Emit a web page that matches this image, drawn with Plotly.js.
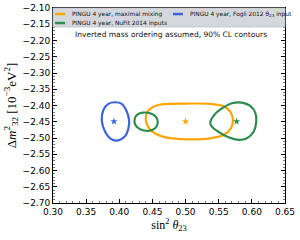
<!DOCTYPE html>
<html><head><meta charset="utf-8">
<script src="https://cdn.plot.ly/plotly-3.0.1.min.js"></script>
<style>html,body{margin:0;padding:0;background:#fff}#c{width:300px;height:240px}</style>
</head><body><div id="c"></div>
<script>
// Contour data (sin^2 theta23, Delta m^2_32 in 1e-3 eV^2)
const orangeX = [0.440,0.4425,0.4516,0.4667,0.502,0.5372,0.5573,0.5674,0.5715,0.5684,0.5573,0.5372,0.502,0.4718,0.4541,0.444,0.440];
const orangeY = [-2.445,-2.419,-2.404,-2.396,-2.394,-2.395,-2.402,-2.419,-2.445,-2.470,-2.491,-2.501,-2.504,-2.499,-2.486,-2.467,-2.445];
const blueX = [0.3937,0.4038,0.4103,0.4148,0.4138,0.4088,0.3962,0.3861,0.3786,0.3735,0.3760,0.3835,0.3937];
const blueY = [-2.390,-2.395,-2.414,-2.445,-2.470,-2.494,-2.508,-2.501,-2.481,-2.445,-2.414,-2.395,-2.390];
const greenSmallX = [0.4228,0.4264,0.4355,0.4465,0.4556,0.4581,0.4541,0.444,0.4314,0.4249,0.4228];
const greenSmallY = [-2.447,-2.429,-2.422,-2.424,-2.436,-2.453,-2.470,-2.478,-2.473,-2.462,-2.447];
const greenBigX = [0.5372,0.5433,0.5548,0.5699,0.585,0.5976,0.6051,0.6066,0.6026,0.5926,0.580,0.5648,0.5497,0.5397,0.5372];
const greenBigY = [-2.453,-2.429,-2.409,-2.393,-2.391,-2.401,-2.422,-2.450,-2.481,-2.501,-2.506,-2.498,-2.481,-2.465,-2.453];
const bestFitX = [0.500, 0.392, 0.577];
const bestFitY = [-2.449, -2.449, -2.449];
const seriesNames = ["PINGU 4 year, maximal mixing", "PINGU 4 year, Fogli 2012 θ<sub>23</sub> input", "PINGU 4 year, NuFit 2014 inputs"];
const xTicks = [0.30,0.35,0.40,0.45,0.50,0.55,0.60,0.65];
const yTicks = [-2.70,-2.65,-2.60,-2.55,-2.50,-2.45,-2.40,-2.35,-2.30,-2.25,-2.20,-2.15,-2.10];

const cOrange = "#ffa500", cBlue = "#3f63e0", cGreen = "#2e8b4e";
const line = (x, y, c, name) => ({x, y, type: "scatter", mode: "lines", name, showlegend: false,
  line: {color: c, width: 2.2, shape: "spline", smoothing: 1.0}, hoverinfo: "skip"});
const traces = [
  line(orangeX, orangeY, cOrange, seriesNames[0]),
  line(blueX, blueY, cBlue, seriesNames[1]),
  line(greenSmallX, greenSmallY, cGreen, seriesNames[2]),
  line(greenBigX, greenBigY, cGreen, seriesNames[2]),
  {x: bestFitX, y: bestFitY, type: "scatter", mode: "markers", showlegend: false,
   marker: {symbol: "star", size: 5.5, color: [cOrange, cBlue, cGreen]}}
];

const axBase = {showline: true, linecolor: "#000", linewidth: 1, mirror: "allticks", ticks: "inside",
  ticklen: 4, tickwidth: 1, tickcolor: "#000", showgrid: false, zeroline: false,
  tickfont: {family: "DejaVu Sans", size: 9, color: "#000"},
  minor: {ticks: "inside", ticklen: 2, tickwidth: 0.8, tickcolor: "#555", dtick: 0.01}};

const legFont = {family: "DejaVu Sans", size: 5.9, color: "#111"};
const layout = {
  width: 300, height: 240, margin: {l: 53, r: 15, t: 8, b: 37},
  paper_bgcolor: "#fff", plot_bgcolor: "#fff", showlegend: false,
  xaxis: Object.assign({}, axBase, {range: [0.30, 0.65], tickvals: xTicks, ticktext: xTicks.map(v => v.toFixed(2)),
    title: {text: "sin<sup>2</sup> <i>θ</i><sub>23</sub>", font: {family: "Liberation Serif", size: 12, color: "#000"}, standoff: 2}}),
  yaxis: Object.assign({}, axBase, {range: [-2.70, -2.10], tickvals: yTicks, ticktext: yTicks.map(v => "−" + Math.abs(v).toFixed(2)),
    title: {text: "Δ<i>m</i><sup>2</sup><sub>32</sub> [10<sup>−3</sup>eV<sup>2</sup>]", font: {family: "Liberation Serif", size: 13, color: "#000"}, standoff: 3}}),
  shapes: [
    {type: "rect", xref: "paper", yref: "paper", x0: 0, x1: 1, y0: 0.9026, y1: 1, fillcolor: "#d4d7dc", line: {color: "#c0c3c8", width: 0.8}, layer: "above"},
    {type: "line", xref: "paper", yref: "paper", x0: 0.009, x1: 0.052, y0: 0.969, y1: 0.969, line: {color: cOrange, width: 2.5}},
    {type: "line", xref: "paper", yref: "paper", x0: 0.009, x1: 0.052, y0: 0.923, y1: 0.923, line: {color: cGreen, width: 2.5}},
    {type: "line", xref: "paper", yref: "paper", x0: 0.517, x1: 0.560, y0: 0.969, y1: 0.969, line: {color: cBlue, width: 2.5}}
  ],
  annotations: [
    {xref: "paper", yref: "paper", x: 0.073, y: 0.969, xanchor: "left", yanchor: "middle", showarrow: false, text: seriesNames[0], font: legFont},
    {xref: "paper", yref: "paper", x: 0.073, y: 0.923, xanchor: "left", yanchor: "middle", showarrow: false, text: seriesNames[2], font: legFont},
    {xref: "paper", yref: "paper", x: 0.582, y: 0.969, xanchor: "left", yanchor: "middle", showarrow: false, text: seriesNames[1], font: legFont},
    {xref: "paper", yref: "paper", x: 0.509, y: 0.862, xanchor: "center", yanchor: "middle", showarrow: false, text: "Inverted mass ordering assumed, 90% CL contours", font: {family: "DejaVu Sans", size: 7.5, color: "#111"}}
  ]
};
Plotly.newPlot("c", traces, layout, {staticPlot: true, displayModeBar: false});
</script></body></html>
